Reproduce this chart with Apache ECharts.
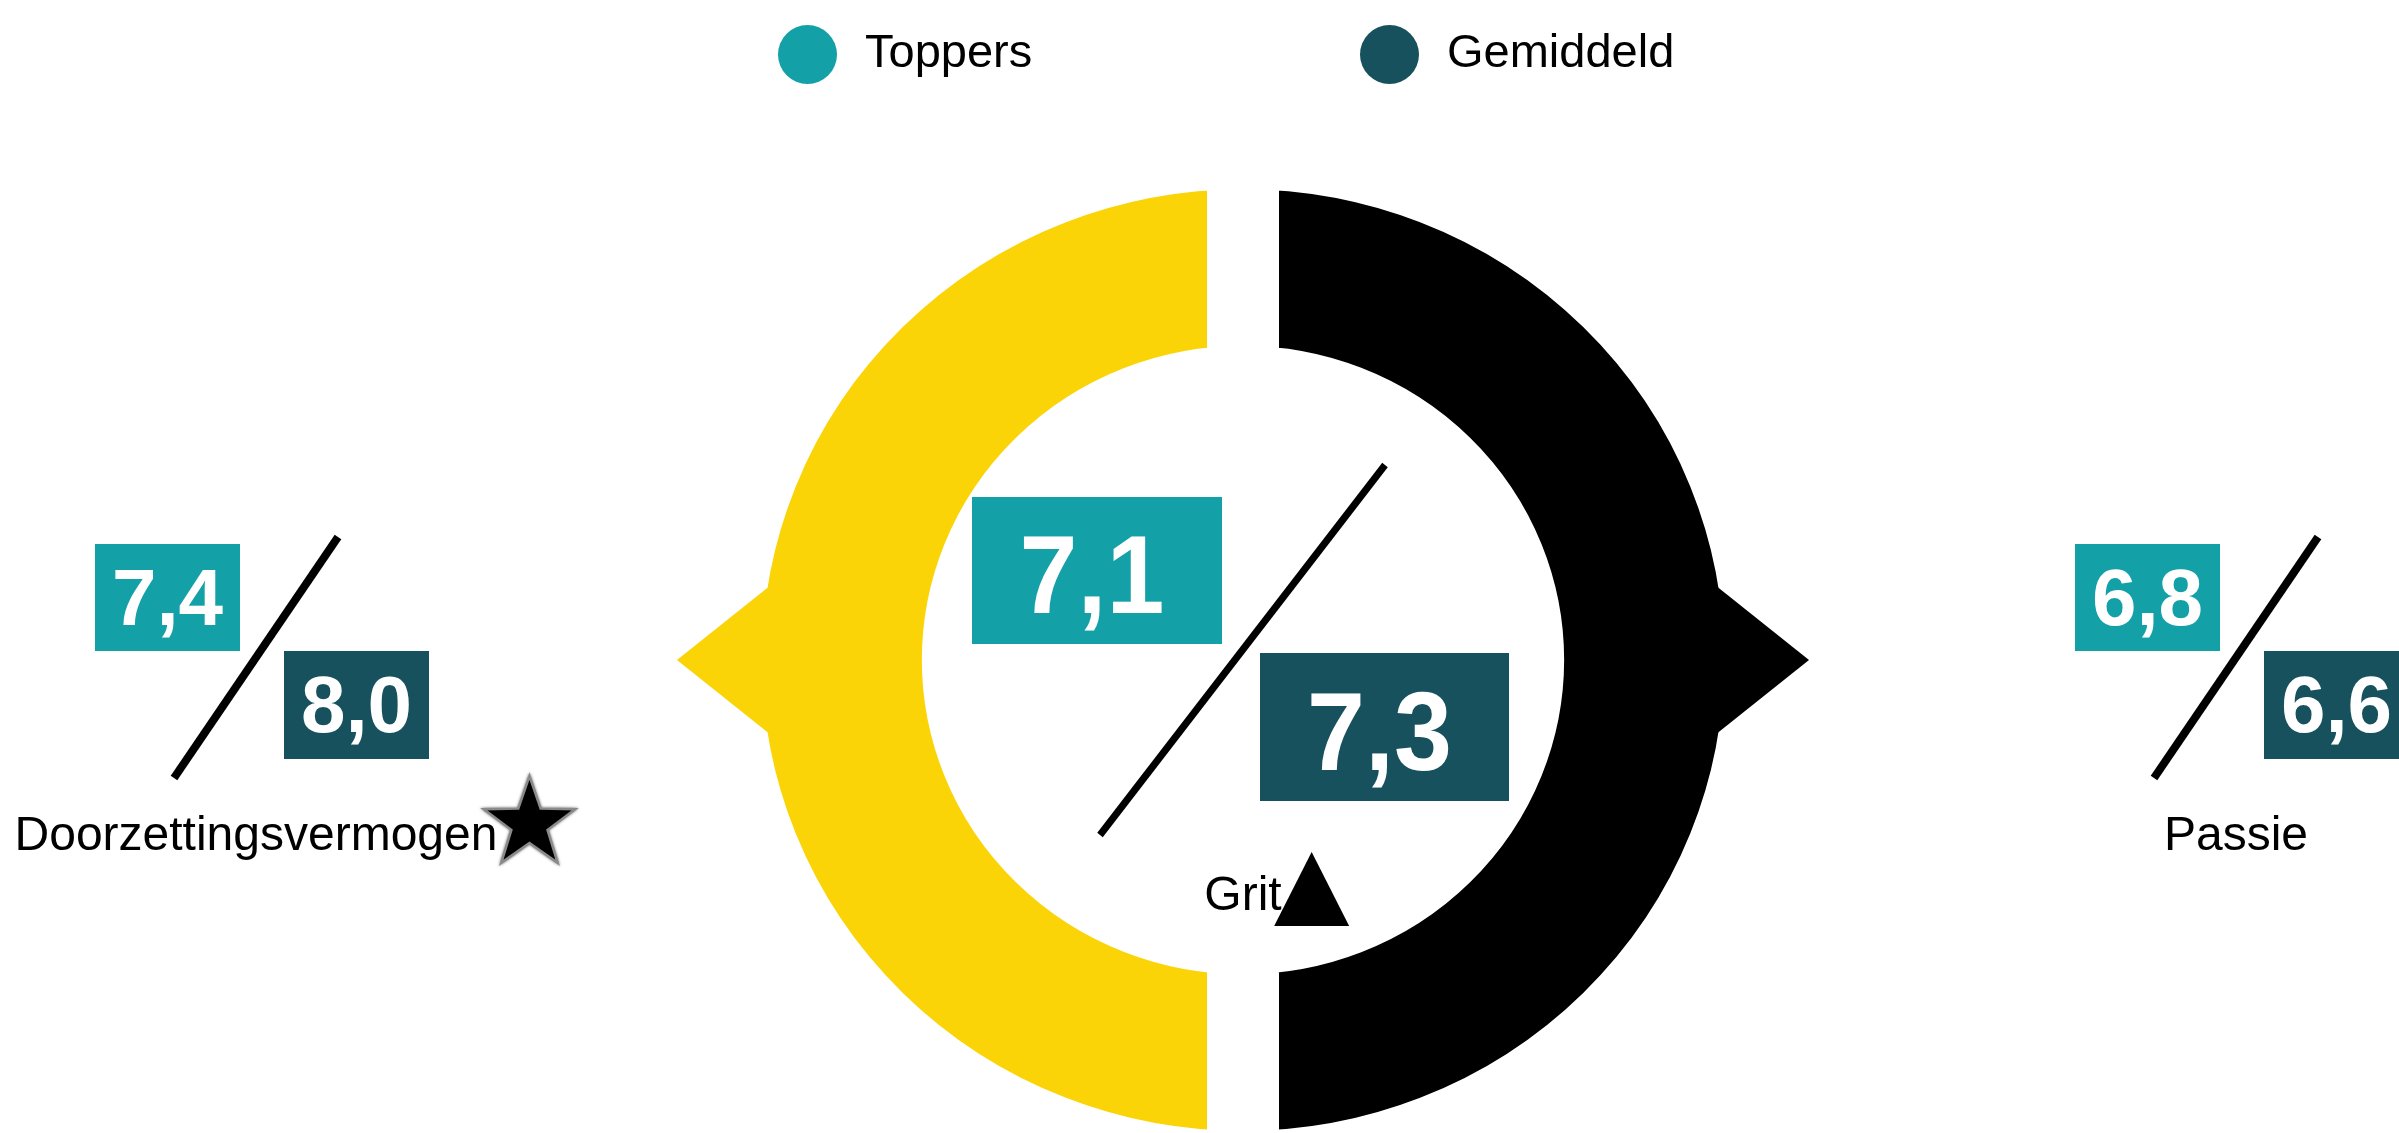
<!DOCTYPE html>
<html><head><meta charset="utf-8">
<script src="https://cdn.jsdelivr.net/npm/echarts@6/dist/echarts.min.js"></script>
<style>html,body{margin:0;padding:0;background:#fff}#c{width:2399px;height:1133px}</style>
</head><body><div id="c"></div>
<script>
// ---- data ----
const categories = ['Doorzettingsvermogen', 'Grit', 'Passie'];
const toppers = [7.4, 7.1, 6.8];
const gemiddeld = [8.0, 7.3, 6.6];
const markers = ['star', 'triangle', 'none'];
const ringParts = ['Doorzettingsvermogen', 'Passie'];
const ringShares = [50, 50];
const seriesNames = ['Toppers', 'Gemiddeld'];

// ---- styles / layout ----
const COLORS = { toppers: '#13A0A7', gemiddeld: '#17515D', ring: ['#FBD408', '#000000'] };
const FONT = '"Liberation Sans", Arial, Helvetica, sans-serif';
const CX = 1243, CY = 660, R_IN = 315, R_OUT = 470, GAP = 72, RING_SX = 1.022;
const ARROW = { tip: 566, base: 472, half: 75 };
const LAYOUT = {
  small: { tb: [-161, -16, 544, 651], db: [28, 173, 651, 759], line: [82, 537, -82, 778], lw: 8, fs: 80, sx: 1, dx: 0, labelDx: 0, labelY: 850, digitDy: 5 },
  big:   { tb: [-274, -24, 497, 644], db: [14, 263, 653, 801], line: [139, 465, -146, 835], lw: 7, fs: 112, sx: 0.93, dx: -5, labelDx: -3, labelY: 910, digitDy: 12 }
};
const LABEL_FS = 48;

const mctx = document.createElement('canvas').getContext('2d');
function measure(t, fs) { mctx.font = fs + 'px ' + FONT; return mctx.measureText(t).width; }
function fmt(v) { return v.toFixed(1).replace('.', ','); }
function layoutFor(i) { return categories[i] === 'Grit' ? LAYOUT.big : LAYOUT.small; }

// ring: each part is an annular sector (cumulative share, starting at the top, going counter-clockwise)
const shareTotal = ringShares.reduce((a, b) => a + b, 0);
function ringRenderer(params, api) {
  const k = params.dataIndex;
  let before = 0;
  for (let j = 0; j < k; j++) before += ringShares[j];
  const a0 = -Math.PI / 2 - (before / shareTotal) * 2 * Math.PI;
  const a1 = -Math.PI / 2 - ((before + api.value(0)) / shareTotal) * 2 * Math.PI;
  const mid = (a0 + a1) / 2;
  const c = Math.cos(mid), s = Math.sin(mid);
  const tip = [c * ARROW.tip, s * ARROW.tip];
  const b1 = [c * ARROW.base - s * ARROW.half, s * ARROW.base + c * ARROW.half];
  const b2 = [c * ARROW.base + s * ARROW.half, s * ARROW.base - c * ARROW.half];
  return {
    type: 'group', x: CX, y: CY, children: [
      { type: 'sector', scaleX: RING_SX,
        shape: { cx: 0, cy: 0, r0: R_IN - GAP / 2, r: R_OUT + GAP / 2, startAngle: a1, endAngle: a0, clockwise: true },
        style: { fill: api.visual('color'), stroke: '#fff', lineWidth: GAP / RING_SX } },
      { type: 'polygon', shape: { points: [tip, b1, b2] }, style: { fill: api.visual('color') } }
    ]
  };
}

function boxRenderer(which) {
  return function (params, api) {
    const i = api.value(0);
    const x = api.coord([i, 0])[0];
    const L = layoutFor(i);
    const b = L[which];
    return {
      type: 'group', children: [
        { type: 'rect', shape: { x: x + b[0], y: b[2], width: b[1] - b[0], height: b[3] - b[2] }, style: { fill: api.visual('color') } },
        { type: 'text', x: x + (b[0] + b[1]) / 2 + L.dx, y: (b[2] + b[3]) / 2 + L.digitDy, scaleX: L.sx,
          style: { text: fmt(api.value(1)), fill: '#fff', fontSize: L.fs, fontWeight: 'bold', fontFamily: FONT, align: 'center', verticalAlign: 'middle' } }
      ]
    };
  };
}

function starPoints(cx, cy, R, r) {
  const pts = [];
  for (let k = 0; k < 10; k++) {
    const a = -Math.PI / 2 + k * Math.PI / 5;
    const rr = k % 2 === 0 ? R : r;
    pts.push([cx + rr * Math.cos(a), cy + rr * Math.sin(a)]);
  }
  return pts;
}

function labelRenderer(params, api) {
  const i = api.value(0);
  const x = api.coord([i, 0])[0];
  const L = layoutFor(i);
  const name = categories[i];
  const w = measure(name, LABEL_FS);
  const tx = x + L.labelDx;
  const right = tx + w / 2;
  const base = L.labelY;
  const children = [
    { type: 'line', shape: { x1: x + L.line[0], y1: L.line[1], x2: x + L.line[2], y2: L.line[3] }, style: { stroke: '#000', lineWidth: L.lw, lineCap: 'butt' } },
    { type: 'text', x: tx, y: base - 13, style: { text: name, fill: '#000', fontSize: LABEL_FS, fontFamily: FONT, align: 'center', verticalAlign: 'middle' } }
  ];
  if (markers[i] === 'star') {
    children.push({ type: 'polygon', shape: { points: starPoints(right + 32, base - 26, 48, 19) },
      style: { fill: '#000', stroke: '#8a8a8a', lineWidth: 2.5, shadowBlur: 3, shadowColor: 'rgba(0,0,0,0.5)' } });
  } else if (markers[i] === 'triangle') {
    children.push({ type: 'polygon', shape: { points: [[right + 30, base - 58], [right + 30 + 37.5, base + 16], [right + 30 - 37.5, base + 16]] },
      style: { fill: '#000' } });
  }
  return { type: 'group', children: children };
}

const chart = echarts.init(document.getElementById('c'), null, { renderer: 'canvas' });
const legendBase = { top: 20, icon: 'circle', itemWidth: 59, itemHeight: 59, selectedMode: false,
  textStyle: { fontSize: 47, fontFamily: FONT, color: '#000', padding: [0, 0, 0, 23] } };

chart.setOption({
  animation: false,
  backgroundColor: '#fff',
  legend: [
    Object.assign({ data: [seriesNames[0]], left: 773 }, legendBase),
    Object.assign({ data: [seriesNames[1]], left: 1355 }, legendBase)
  ],
  grid: { left: 256, right: 2399 - 2236, top: 0, bottom: 0 },
  xAxis: { type: 'category', data: categories, boundaryGap: false, show: false },
  yAxis: { type: 'value', min: 0, max: 10, show: false },
  series: [
    { type: 'custom', name: 'ring', coordinateSystem: 'none', silent: true, z: 1, renderItem: ringRenderer,
      data: ringParts.map((n, k) => ({ name: n, value: [ringShares[k]], itemStyle: { color: COLORS.ring[k] } })) },
    { type: 'custom', name: seriesNames[0], z: 10, itemStyle: { color: COLORS.toppers }, renderItem: boxRenderer('tb'),
      data: toppers.map((v, i) => [i, v]) },
    { type: 'custom', name: seriesNames[1], z: 10, itemStyle: { color: COLORS.gemiddeld }, renderItem: boxRenderer('db'),
      data: gemiddeld.map((v, i) => [i, v]) },
    { type: 'custom', name: 'labels', z: 10, renderItem: labelRenderer, data: categories.map((c, i) => [i, 0]) }
  ]
});
</script></body></html>
